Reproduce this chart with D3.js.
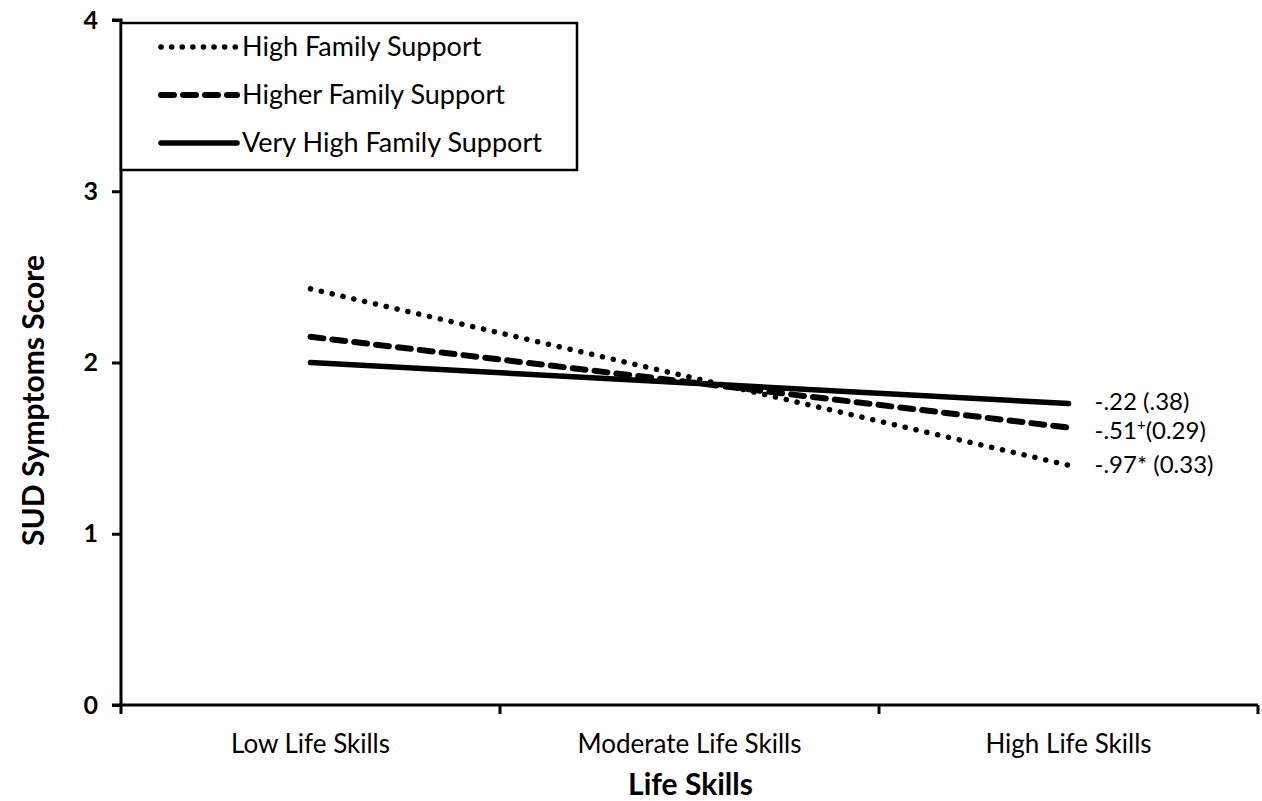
<!DOCTYPE html>
<html>
<head>
<meta charset="utf-8">
<script src="https://cdn.jsdelivr.net/npm/d3@7"></script>
<style>
  body { margin: 0; background: #fff; }
  text { font-family: Lato, "Open Sans", sans-serif; fill: #000; }
</style>
</head>
<body>
<svg width="1262" height="801"></svg>
<script>
const categories = ['Low Life Skills', 'Moderate Life Skills', 'High Life Skills'];
const seriesNames = ['High Family Support', 'Higher Family Support', 'Very High Family Support'];
const highSupport = [2.43, 1.915, 1.40];
const higherSupport = [2.15, 1.885, 1.62];
const veryHighSupport = [2.00, 1.88, 1.76];
const slopeLabels = ['-.97* (0.33)', '-.51', '-.22 (.38)'];
const yTicks = [0, 1, 2, 3, 4];

const svg = d3.select('svg');
const margin = {left: 121, top: 20, right: 4, bottom: 96};
const width = 1262 - margin.left - margin.right;
const height = 801 - margin.top - margin.bottom;

const x = d3.scaleBand().domain(categories).range([0, width]);
const y = d3.scaleLinear().domain([0, 4]).range([height, 0]);

const g = svg.append('g').attr('transform', 'translate(' + margin.left + ',' + margin.top + ')');

// axes
const yAxis = g.append('g')
  .call(d3.axisLeft(y).tickValues(yTicks).tickSize(9).tickPadding(14).tickFormat(d3.format('d')));
yAxis.select('.domain').attr('stroke-width', 3).attr('d', 'M-9,0H0V' + height + 'H-9');
yAxis.selectAll('.tick line').attr('stroke-width', 3);
yAxis.selectAll('.tick text').style('font-size', '25px').style('font-weight', 'bold').attr('fill', '#222');

const xAxis = g.append('g')
  .attr('transform', 'translate(0,' + height + ')')
  .call(d3.axisBottom(x).tickSize(0).tickPadding(30));
xAxis.select('.domain').attr('stroke-width', 3).attr('d', 'M0,0H' + width);
xAxis.selectAll('.tick text').style('font-size', '26px');

// band edge ticks
const edges = [0].concat(categories.map(c => x(c) + x.bandwidth()));
g.selectAll('.edge')
  .data(edges)
  .enter().append('line')
    .attr('x1', d => d).attr('x2', d => d)
    .attr('y1', height).attr('y2', height + 9)
    .attr('stroke', '#000').attr('stroke-width', 3);

// axis titles
g.append('text')
  .attr('transform', 'translate(-77,' + (height / 2 + 38) + ') rotate(-90)')
  .attr('text-anchor', 'middle')
  .style('font-size', '30px').style('font-weight', 'bold')
  .text('SUD Symptoms Score');

g.append('text')
  .attr('x', width / 2 + 1)
  .attr('y', height + 90)
  .attr('text-anchor', 'middle')
  .style('font-size', '30px').style('font-weight', 'bold')
  .text('Life Skills');

// lines
const styles = [
  {dash: '0.1 11', width: 5.5, cap: 'round'},
  {dash: '13 9', width: 6, cap: 'round'},
  {dash: null, width: 5.5, cap: 'round'}
];
const seriesData = [highSupport, higherSupport, veryHighSupport];

const line = d3.line()
  .x((d, i) => x(categories[i]) + x.bandwidth() / 2)
  .y(d => y(d));

g.selectAll('.series')
  .data(seriesData)
  .enter().append('path')
    .attr('class', 'series')
    .attr('d', line)
    .attr('fill', 'none')
    .attr('stroke', '#000')
    .attr('stroke-width', (d, i) => styles[i].width)
    .attr('stroke-linecap', (d, i) => styles[i].cap)
    .attr('stroke-dasharray', (d, i) => styles[i].dash);

// slope labels
const lastX = x(categories[2]) + x.bandwidth() / 2;
const labelY = [highSupport[2], higherSupport[2], veryHighSupport[2]];
const labelOffsets = [8, 11.5, 6];
slopeLabels.forEach((t, i) => {
  const txt = g.append('text')
    .attr('x', lastX + 26)
    .attr('y', y(labelY[i]) + labelOffsets[i])
    .style('font-size', '24px');
  if (i === 1) {
    txt.append('tspan').text(t);
    txt.append('tspan').attr('dy', -9).style('font-size', '15px').text('+');
    txt.append('tspan').attr('dy', 9).text('(0.29)');
  } else {
    txt.text(t);
  }
});

// legend
const legend = g.append('g').attr('transform', 'translate(0,3)');
legend.append('rect')
  .attr('x', 0).attr('y', 0)
  .attr('width', 456).attr('height', 147)
  .attr('fill', '#fff').attr('stroke', '#000').attr('stroke-width', 2.5);

seriesNames.forEach((name, i) => {
  const ly = 24 + i * 48;
  legend.append('line')
    .attr('x1', 40).attr('x2', 116)
    .attr('y1', ly).attr('y2', ly)
    .attr('stroke', '#000')
    .attr('stroke-width', styles[i].width)
    .attr('stroke-linecap', styles[i].cap)
    .attr('stroke-dasharray', i === 0 ? '0.1 10.5' : (i === 1 ? '13 9' : null));
  legend.append('text')
    .attr('x', 121).attr('y', ly + 9)
    .style('font-size', '27px')
    .text(name);
});
</script>
</body>
</html>
